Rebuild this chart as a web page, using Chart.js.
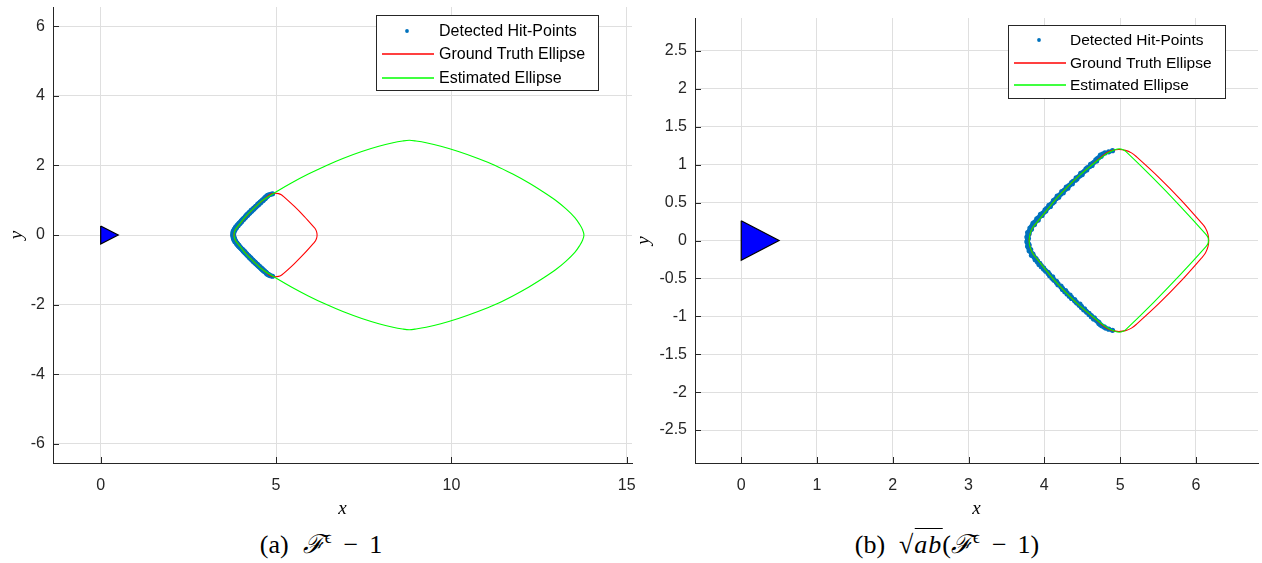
<!DOCTYPE html>
<html>
<head>
<meta charset="utf-8">
<script src="https://cdn.jsdelivr.net/npm/chart.js@4.4.0/dist/chart.umd.min.js"></script>
<style>
  html, body { margin: 0; padding: 0; background: #fff; width: 1262px; height: 563px; overflow: hidden; }
  .panel { position: absolute; top: 0; height: 525px; }
  #wa { left: 0; width: 640px; }
  #wb { left: 628px; width: 634px; }
  .cap {
    position: absolute; top: 530px; transform: translateX(-50%);
    font-family: "Liberation Serif", "DejaVu Serif", serif; font-size: 26px; line-height: 30px;
    color: #000; white-space: nowrap;
  }
  .cap i { font-style: italic; }
  .cap .F { margin-right: 1px; }
  .cap sup { font-size: 17px; vertical-align: 10px; line-height: 0; }
  .cap .op { margin: 0 11px 0 12px; }
  .cap .sp { display: inline-block; width: 14px; }
  .cap .ov { border-top: 1.4px solid #000; padding-top: 1px; margin-left: 1px; }
  .cap .ov i { letter-spacing: 1px; }
</style>
</head>
<body>
<div class="panel" id="wa"><canvas id="ca"></canvas></div>
<div class="panel" id="wb"><canvas id="cb"></canvas></div>
<div class="cap" style="left:321px">(a)<span class="sp"></span><i class="F">ℱ</i><sup>ϵ</sup><span class="op">−</span>1</div>
<div class="cap" style="left:947px">(b)<span class="sp"></span>√<span class="ov"><i>ab</i></span>(<i class="F">ℱ</i><sup>ϵ</sup><span class="op">−</span>1)</div>

<script>
// Series names and colours shown in the legends
const seriesLabels = ['Detected Hit-Points', 'Ground Truth Ellipse', 'Estimated Ellipse'];
const seriesColors = ['#0072BD', '#ff0000', '#00ff00'];

// Detected hit-points along the visible (left) side of the object
const hitX = [4.85, 4.77, 4.75, 4.70, 4.69, 4.64, 4.63, 4.57, 4.56, 4.51,
              4.50, 4.45, 4.43, 4.38, 4.37, 4.32, 4.31, 4.26, 4.25, 4.20,
              4.19, 4.14, 4.13, 4.09, 4.08, 4.03, 4.02, 3.98, 3.97, 3.92,
              3.92, 3.87, 3.87, 3.83, 3.83, 3.80, 3.80, 3.78, 3.79, 3.78,
              3.78, 3.80, 3.79, 3.82, 3.82, 3.85, 3.86, 3.89, 3.91, 3.94,
              3.96, 3.99, 4.01, 4.05, 4.07, 4.11, 4.12, 4.16, 4.18, 4.22,
              4.24, 4.28, 4.30, 4.34, 4.36, 4.40, 4.42, 4.47, 4.49, 4.53,
              4.55, 4.59, 4.62, 4.66, 4.68, 4.72, 4.74, 4.79, 4.85,
              4.80, 4.74, 4.72, 4.68, 4.66, 4.61, 4.60, 4.55, 4.53, 4.48,
              4.47, 4.42, 4.41, 4.36, 4.34, 4.29, 4.28, 4.23, 4.22, 4.17,
              4.16, 4.12, 4.11, 4.06, 4.05, 4.01, 4.00, 3.95, 3.94, 3.90,
              3.89, 3.85, 3.84, 3.81, 3.81, 3.78, 3.79, 3.77, 3.78,
              3.77, 3.79, 3.78, 3.80, 3.80, 3.83, 3.83, 3.87, 3.88, 3.91,
              3.93, 3.96, 3.99, 4.02, 4.05, 4.07, 4.10, 4.13, 4.16, 4.18,
              4.22, 4.24, 4.27, 4.30, 4.33, 4.36, 4.40, 4.43, 4.46, 4.49,
              4.52, 4.56, 4.59, 4.62, 4.65, 4.70, 4.72, 4.76, 4.81,
              4.90, 4.90];
const hitY = [1.17, 1.14, 1.11, 1.08, 1.05, 1.02, 0.99, 0.96, 0.93, 0.90,
              0.87, 0.84, 0.81, 0.78, 0.75, 0.72, 0.69, 0.66, 0.63, 0.60,
              0.57, 0.54, 0.51, 0.48, 0.45, 0.42, 0.39, 0.36, 0.33, 0.30,
              0.27, 0.24, 0.21, 0.18, 0.15, 0.12, 0.09, 0.06, 0.03, 0.00,
              -0.03, -0.06, -0.09, -0.12, -0.15, -0.18, -0.21, -0.24, -0.27, -0.30,
              -0.33, -0.36, -0.39, -0.42, -0.45, -0.48, -0.51, -0.54, -0.57, -0.60,
              -0.63, -0.66, -0.69, -0.72, -0.75, -0.78, -0.81, -0.84, -0.87, -0.90,
              -0.93, -0.96, -0.99, -1.02, -1.05, -1.08, -1.11, -1.14, -1.17,
              1.155, 1.125, 1.095, 1.065, 1.035, 1.005, 0.975, 0.945, 0.915, 0.885,
              0.855, 0.825, 0.795, 0.765, 0.735, 0.705, 0.675, 0.645, 0.615, 0.585,
              0.555, 0.525, 0.495, 0.465, 0.435, 0.405, 0.375, 0.345, 0.315, 0.285,
              0.255, 0.225, 0.195, 0.165, 0.135, 0.105, 0.075, 0.045, 0.015,
              -0.015, -0.045, -0.075, -0.105, -0.135, -0.165, -0.195, -0.225, -0.255, -0.285,
              -0.315, -0.345, -0.375, -0.405, -0.435, -0.465, -0.495, -0.525, -0.555, -0.585,
              -0.615, -0.645, -0.675, -0.705, -0.735, -0.765, -0.795, -0.825, -0.855, -0.885,
              -0.915, -0.945, -0.975, -1.005, -1.035, -1.065, -1.095, -1.125, -1.155,
              1.185, -1.185];

// Ground-truth outline: rounded diamond centred near (5, 0), traced clockwise
const truthX = [4.143, 4.428, 4.752, 4.820, 4.900, 4.985, 5.070, 5.150, 5.218,
                5.517, 5.802, 6.073, 6.126, 6.159, 6.170, 6.159, 6.126, 6.073,
                5.802, 5.517, 5.218, 5.150, 5.070, 4.985, 4.900, 4.820, 4.752,
                4.428, 4.143, 3.897, 3.844, 3.811, 3.800, 3.811, 3.844, 3.897, 4.143];
const truthY = [0.537, 0.827, 1.103, 1.156, 1.189, 1.200, 1.189, 1.156, 1.103,
                0.827, 0.537, 0.233, 0.165, 0.085, 0.000, -0.085, -0.165, -0.233,
                -0.537, -0.827, -1.103, -1.156, -1.189, -1.200, -1.189, -1.156, -1.103,
                -0.827, -0.537, -0.233, -0.165, -0.085, 0.000, 0.085, 0.165, 0.233, 0.537];

// Estimated outline for panel (a): F^eps - 1
const estAX = [4.62, 5.02, 5.45, 5.92, 6.44, 6.906, 7.446, 7.931, 8.336, 8.61, 8.80,
               8.99, 9.28, 9.70, 10.20, 10.76, 11.25, 11.75, 12.20, 12.60, 12.97, 13.27, 13.52, 13.66, 13.74, 13.78,
               13.74, 13.66, 13.52, 13.27, 12.97, 12.60, 12.20, 11.75, 11.25, 10.76, 10.20, 9.70, 9.28, 8.99, 8.80,
               8.61, 8.336, 7.931, 7.446, 6.906, 6.44, 5.92, 5.45, 5.02, 4.62, 4.35, 4.105, 3.95, 3.84, 3.80,
               3.84, 3.95, 4.105, 4.35, 4.62];
const estAY = [1.00, 1.25, 1.50, 1.75, 2.00, 2.20, 2.40, 2.55, 2.65, 2.70, 2.72,
               2.70, 2.65, 2.55, 2.40, 2.20, 2.00, 1.75, 1.50, 1.25, 1.00, 0.75, 0.50, 0.30, 0.15, 0.00,
               -0.15, -0.30, -0.50, -0.75, -1.00, -1.25, -1.50, -1.75, -2.00, -2.20, -2.40, -2.55, -2.65, -2.70, -2.72,
               -2.70, -2.65, -2.55, -2.40, -2.20, -2.00, -1.75, -1.50, -1.25, -1.00, -0.75, -0.50, -0.30, -0.15, 0.00,
               0.15, 0.30, 0.50, 0.75, 1.00];

// Estimated outline for panel (b): sqrt(ab)(F^eps - 1)
const estBX = [4.143, 4.428, 4.760, 4.855, 4.930, 4.990, 5.040, 5.075,
               5.437, 5.789, 6.130, 6.160, 6.165, 6.160, 6.130, 5.789, 5.437,
               5.075, 5.040, 4.990, 4.930, 4.855, 4.760, 4.428, 4.143,
               3.897, 3.844, 3.811, 3.800, 3.811, 3.844, 3.897, 4.143];
const estBY = [0.537, 0.827, 1.100, 1.165, 1.198, 1.210, 1.198, 1.175,
               0.822, 0.458, 0.085, 0.040, 0.000, -0.040, -0.085, -0.458, -0.822,
               -1.175, -1.198, -1.210, -1.198, -1.165, -1.100, -0.827, -0.537,
               -0.233, -0.165, -0.085, 0.000, 0.085, 0.165, 0.233, 0.537];

// Sensor marker (triangle at the origin, pointing along +x)
const sensorX = [0, 0.5, 0, 0];
const sensorY = [0.26, 0, -0.26, 0.26];

// Axis ticks
const xTicksA = [0, 5, 10, 15];
const yTicksA = [-6, -4, -2, 0, 2, 4, 6];
const xTicksB = [0, 1, 2, 3, 4, 5, 6];
const yTicksB = [-2.5, -2, -1.5, -1, -0.5, 0, 0.5, 1, 1.5, 2, 2.5];

const zip = (xs, ys) => xs.map((x, i) => ({ x, y: ys[i] }));

const AXIS_COLOR = '#262626';
const GRID_COLOR = '#dfdfdf';
const SANS = '"Liberation Sans", Arial, Helvetica, sans-serif';
const SERIF = '"Liberation Serif", "DejaVu Serif", serif';

// Short tick marks pointing into the plot area
const innerTicks = {
  id: 'innerTicks',
  afterDatasetsDraw(chart) {
    const { ctx, chartArea: a, scales: { x, y } } = chart;
    ctx.save();
    ctx.strokeStyle = AXIS_COLOR;
    ctx.lineWidth = 1;
    ctx.beginPath();
    x.ticks.forEach(t => {
      const px = Math.round(x.getPixelForValue(t.value)) + 0.5;
      ctx.moveTo(px, a.bottom);
      ctx.lineTo(px, a.bottom - 6);
    });
    y.ticks.forEach(t => {
      const py = Math.round(y.getPixelForValue(t.value)) + 0.5;
      ctx.moveTo(a.left, py);
      ctx.lineTo(a.left + 6, py);
    });
    ctx.stroke();
    ctx.restore();
  }
};

// Boxed legend drawn inside the top-right corner of the plot area
const insideLegend = {
  id: 'insideLegend',
  afterDraw(chart, args, o) {
    const { ctx, chartArea: a } = chart;
    ctx.save();
    ctx.font = o.fontSize + 'px ' + SANS;
    const textW = Math.max(...seriesLabels.map(s => ctx.measureText(s).width));
    const w = Math.round(o.textOffset + textW + o.padRight);
    const h = o.height;
    const left = Math.round(a.right - o.right - w);
    const top = Math.round(a.top + o.top);
    ctx.fillStyle = '#fff';
    ctx.fillRect(left, top, w, h);
    ctx.strokeStyle = AXIS_COLOR;
    ctx.lineWidth = 1;
    ctx.strokeRect(left + 0.5, top + 0.5, w, h);
    seriesLabels.forEach((label, i) => {
      const cy = Math.round(top + o.firstRow + i * o.rowGap);
      if (i === 0) {
        ctx.fillStyle = seriesColors[0];
        ctx.beginPath();
        ctx.arc(left + 31, cy, 1.9, 0, Math.PI * 2);
        ctx.fill();
      } else {
        ctx.strokeStyle = seriesColors[i];
        ctx.lineWidth = 1.5;
        ctx.beginPath();
        ctx.moveTo(left + 6, cy);
        ctx.lineTo(left + 58, cy);
        ctx.stroke();
      }
      ctx.fillStyle = '#000';
      ctx.textBaseline = 'middle';
      ctx.textAlign = 'left';
      ctx.fillText(label, left + o.textOffset, cy + 1);
    });
    ctx.restore();
  }
};

function makeDatasets(estX, estY) {
  return [
    { label: seriesLabels[0], data: zip(hitX, hitY), showLine: false, order: 3,
      pointRadius: 2.6, pointBackgroundColor: seriesColors[0], pointBorderWidth: 0, pointStyle: 'circle' },
    { label: seriesLabels[1], data: zip(truthX, truthY), order: 2,
      borderColor: seriesColors[1], borderWidth: 1.1, pointRadius: 0, tension: 0.35, fill: false },
    { label: seriesLabels[2], data: zip(estX, estY), order: 1,
      borderColor: seriesColors[2], borderWidth: 1.1, pointRadius: 0, tension: 0.35, fill: false },
    { data: zip(sensorX, sensorY), order: 0,
      borderColor: '#000', borderWidth: 1.2, backgroundColor: '#0000ff', pointRadius: 0,
      tension: 0, fill: 'shape' }
  ];
}

function axis(min, max, ticks, title, isX, fitSize, titlePad, tickPad) {
  return {
    type: 'linear', min, max,
    afterBuildTicks: s => { s.ticks = ticks.map(v => ({ value: v })); },
    afterFit: s => {
      if (isX) s.height = fitSize; else s.width = fitSize;
      s.paddingTop = 0; s.paddingBottom = 0; s.paddingLeft = 0; s.paddingRight = 0;
    },
    ticks: {
      callback: v => String(v), autoSkip: false, maxRotation: 0, minRotation: 0,
      color: AXIS_COLOR, padding: tickPad, font: { family: SANS, size: 16 }
    },
    grid: { color: GRID_COLOR, lineWidth: 1, drawTicks: false },
    border: { display: true, color: AXIS_COLOR, width: 1 },
    title: {
      display: true, text: title, color: '#000',
      font: { family: SERIF, size: 19, style: 'italic' },
      padding: titlePad
    }
  };
}

function makeChart(id, cfg) {
  return new Chart(document.getElementById(id), {
    type: 'line',
    data: { datasets: makeDatasets(cfg.estX, cfg.estY) },
    options: {
      responsive: true, maintainAspectRatio: false, animation: false, events: [],
      layout: { padding: cfg.padding },
      scales: {
        x: axis(cfg.xMin, cfg.xMax, cfg.xTicks, 'x', true, 62, { top: 0, bottom: 5 }, 13),
        y: axis(cfg.yMin, cfg.yMax, cfg.yTicks, 'y', false, cfg.yAxisWidth, cfg.yTitlePad, 8)
      },
      plugins: {
        legend: { display: false },
        tooltip: { enabled: false },
        insideLegend: cfg.legend
      }
    },
    plugins: [innerTicks, insideLegend]
  });
}

makeChart('ca', {
  estX: estAX, estY: estAY,
  xMin: -1.36, xMax: 15.15, yMin: -6.55, yMax: 6.55,
  xTicks: xTicksA, yTicks: yTicksA,
  padding: { top: 7, right: 8, left: 0, bottom: 0 },
  yAxisWidth: 53, yTitlePad: 6,
  legend: { fontSize: 16, right: 34, top: 8, height: 75, firstRow: 15.7, rowGap: 23.5, textOffset: 63, padRight: 13 }
});

makeChart('cb', {
  estX: estBX, estY: estBY,
  xMin: -0.61, xMax: 6.82, yMin: -2.935, yMax: 2.935,
  xTicks: xTicksB, yTicks: yTicksB,
  padding: { top: 18, right: 0, left: 0, bottom: 0 },
  yAxisWidth: 67, yTitlePad: 5,
  legend: { fontSize: 15.5, right: 33, top: 7, height: 73, firstRow: 15, rowGap: 22.5, textOffset: 62, padRight: 13 }
});
</script>
</body>
</html>
